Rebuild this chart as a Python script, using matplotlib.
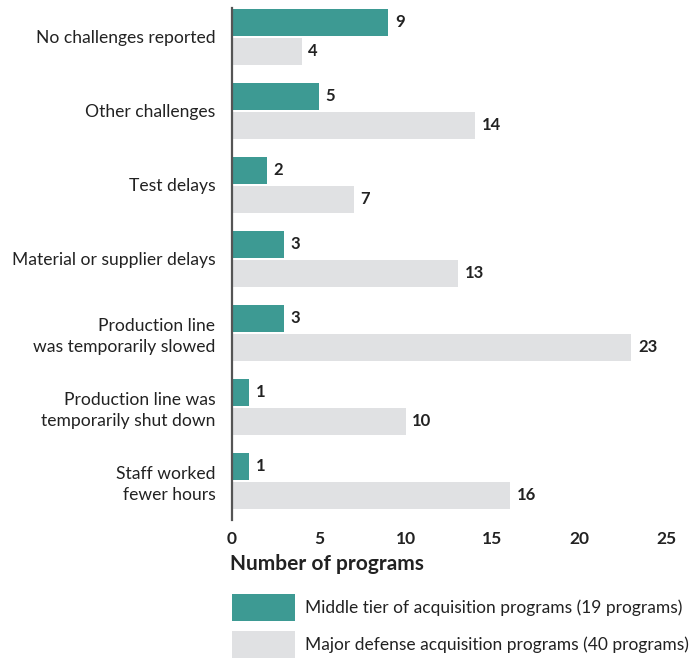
import numpy as np
import matplotlib.pyplot as plt

plt.rcParams['font.family'] = ['Lato', 'DejaVu Sans']

categories = ['No challenges reported', 'Other challenges', 'Test delays',
              'Material or supplier delays', 'Production line\nwas temporarily slowed',
              'Production line was\ntemporarily shut down', 'Staff worked\nfewer hours']
mta = [9, 5, 2, 3, 3, 1, 1]
mdap = [4, 14, 7, 13, 23, 10, 16]
mta_label = 'Middle tier of acquisition programs (19 programs)'
mdap_label = 'Major defense acquisition programs (40 programs)'

green = '#3d9a93'
grey = '#e0e1e3'
txt = '#222222'

fig = plt.figure(figsize=(6.97, 6.6), dpi=100)
ax = fig.add_axes([0.333, 0.2121, 0.6227, 0.7758])

y = np.arange(len(categories))
h = 0.365
b1 = ax.barh(y - h / 2 - 0.013, mta, height=h, color=green, label=mta_label)
b2 = ax.barh(y + h / 2 + 0.013, mdap, height=h, color=grey, label=mdap_label)

for yy, v in zip(y - h / 2 - 0.013, mta):
    ax.text(v + 0.38, yy, str(v), va='center', ha='left', fontsize=12, fontweight='bold', color=txt)
for yy, v in zip(y + h / 2 + 0.013, mdap):
    ax.text(v + 0.38, yy, str(v), va='center', ha='left', fontsize=12, fontweight='bold', color=txt)

ax.set_xlim(0, 25)
ax.set_ylim(6.53, -0.39)
ax.set_yticks(y)
ax.set_yticklabels(categories, fontsize=12.6, color=txt, linespacing=1.38)
ax.set_xticks([0, 5, 10, 15, 20, 25])
ax.tick_params(axis='both', length=0, colors=txt)
ax.tick_params(axis='y', pad=12)
ax.tick_params(axis='x', pad=8, labelsize=12.5)
for lab in ax.get_xticklabels():
    lab.set_fontweight('bold')

for s in ['top', 'right', 'bottom']:
    ax.spines[s].set_visible(False)
ax.spines['left'].set_color('#555555')
ax.spines['left'].set_linewidth(1.6)

fig.text(0.330, 0.145, 'Number of programs', fontsize=15, fontweight='bold', color=txt, va='center')

leg = fig.legend(handles=[b1, b2], loc='upper left', bbox_to_anchor=(0.333, 0.1),
                 frameon=False, fontsize=12.5, handlelength=3.62, handleheight=2.0,
                 handletextpad=0.57, labelspacing=0.57, borderpad=0, borderaxespad=0)
for t in leg.get_texts():
    t.set_color(txt)

fig.savefig('out.png', dpi=100)
